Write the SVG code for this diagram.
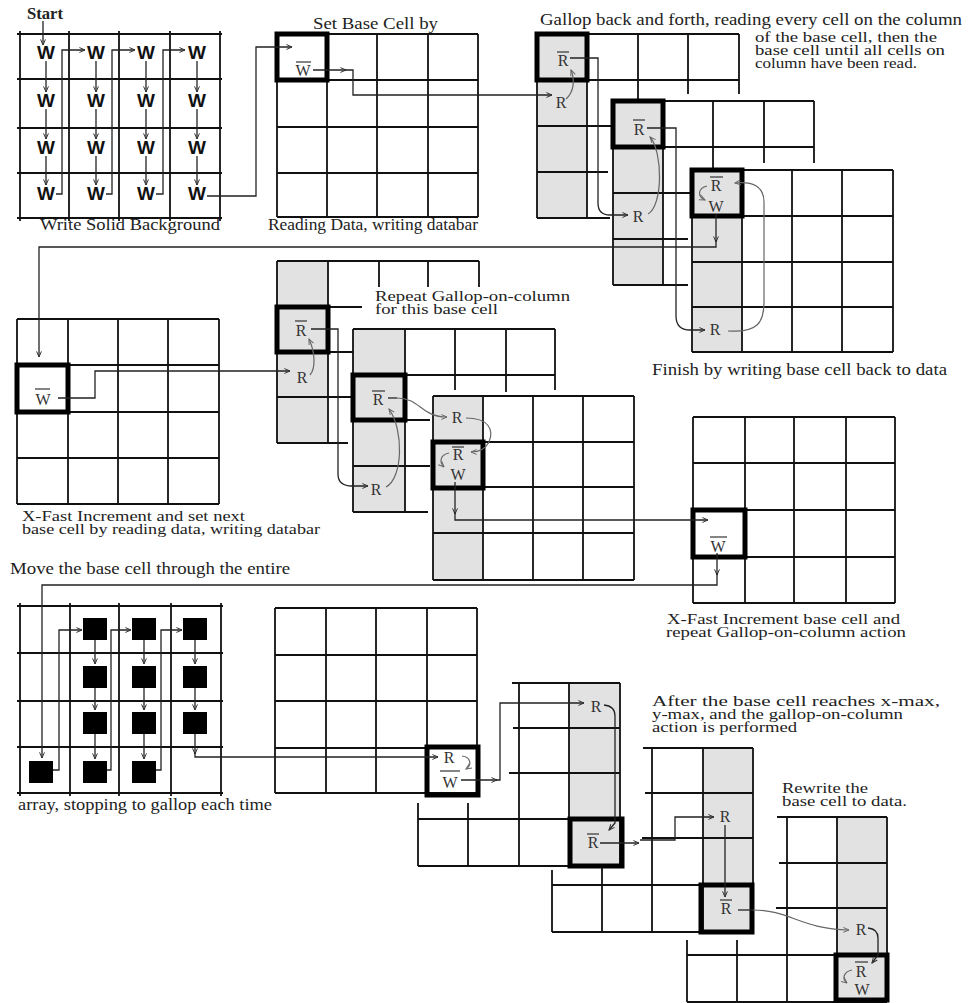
<svg xmlns="http://www.w3.org/2000/svg" width="968" height="1003" viewBox="0 0 968 1003">
<style>
.bg{fill:#fff}
.g{stroke:#111;stroke-width:1.8;fill:none}
.thick{stroke:#000;stroke-width:5;fill:none}
.gray{fill:#e2e2e2}
.c{stroke:#222;stroke-width:1.3;fill:none}
.cg{stroke:#666;stroke-width:1.2;fill:none}
.ol{stroke:#333;stroke-width:1.2}
.t{font-family:"Liberation Serif","Times New Roman",serif;font-size:16px;fill:#222}
.ts{font-family:"Liberation Serif","Times New Roman",serif;font-size:14px;fill:#222}
.l{font-family:"Liberation Serif","Times New Roman",serif;font-size:16px;fill:#333;text-anchor:middle}
.wb{font-family:"Liberation Sans",Arial,sans-serif;font-weight:bold;font-size:19px;fill:#111;text-anchor:middle}
.sq{fill:#000}
</style>
<defs>
<marker id="a" viewBox="0 0 10 10" refX="9" refY="5" markerWidth="7" markerHeight="7" orient="auto" markerUnits="userSpaceOnUse"><path d="M1,1.5 L9,5 L1,8.5" fill="none" stroke="#333" stroke-width="1.4"/></marker>
<marker id="ag" viewBox="0 0 10 10" refX="9" refY="5" markerWidth="7" markerHeight="7" orient="auto" markerUnits="userSpaceOnUse"><path d="M1,1.5 L9,5 L1,8.5" fill="none" stroke="#666" stroke-width="1.4"/></marker>
</defs>
<rect class="bg" x="0" y="0" width="968" height="1003"/>

<!-- Grid 1: write solid background -->
<g id="grid-write">
<path class="g" d="M17,34H222M17,79H222M17,128H222M17,173H222M17,218H222M20,31V221M69,31V221M119,31V221M170,31V221M220,31V221"/>
<text class="wb" x="46" y="59">W</text><text class="wb" x="96" y="59">W</text><text class="wb" x="146" y="59">W</text><text class="wb" x="197" y="59">W</text>
<text class="wb" x="46" y="107">W</text><text class="wb" x="96" y="107">W</text><text class="wb" x="146" y="107">W</text><text class="wb" x="197" y="107">W</text>
<text class="wb" x="46" y="154">W</text><text class="wb" x="96" y="154">W</text><text class="wb" x="146" y="154">W</text><text class="wb" x="197" y="154">W</text>
<text class="wb" x="46" y="200">W</text><text class="wb" x="96" y="200">W</text><text class="wb" x="146" y="200">W</text><text class="wb" x="197" y="200">W</text>
</g>

<!-- Grid 2: set base cell -->
<g id="grid-setbase">
<path class="g" d="M277,34H478M277,80H478M277,127H478M277,173H478M277,217H478M277,34V217M327,34V217M377,34V217M428,34V217M478,34V217"/>
<rect class="thick" x="277" y="34" width="50" height="46"/>
<text class="l" x="303" y="76">W</text><path class="ol" d="M296,62H311"/>
</g>

<!-- Gallop grids A, B, C -->
<g id="gallop-a">
<rect class="gray" x="537" y="34" width="50" height="184"/>
<path class="g" d="M537,34H739M537,80H739M537,126H612M537,172H608M537,218H610M537,34V218M587,34V218M638,34V101M688,34V94M739,34V94"/>
<rect class="thick" x="537" y="34" width="50" height="46"/>
<text class="l" x="563" y="66">R</text><path class="ol" d="M557,52H569"/>
<text class="l" x="561" y="108">R</text>
</g>
<g id="gallop-b">
<rect class="gray" x="613" y="101" width="50" height="184"/>
<path class="g" d="M613,101H814M613,147H814M613,193H690M613,239H688M613,285H688M613,101V285M663,101V285M713,101V170M764,101V163M814,101V163"/>
<rect class="thick" x="613" y="101" width="50" height="46"/>
<text class="l" x="639" y="135">R</text><path class="ol" d="M633,120H645"/>
<text class="l" x="638" y="222">R</text>
</g>
<g id="gallop-c">
<rect class="gray" x="692" y="170" width="50" height="182"/>
<path class="g" d="M692,170H893M692,216H893M692,262H893M692,307H893M692,352H893M692,170V352M742,170V352M792,170V352M842,170V352M893,170V352"/>
<rect class="thick" x="692" y="170" width="50" height="46"/>
<text class="l" x="716" y="191">R</text><path class="ol" d="M710,177H723"/>
<text class="l" x="716" y="212">W</text>
<text class="l" x="715" y="335">R</text>
</g>

<!-- X-fast increment and set next base cell -->
<g id="xfast-set">
<path class="g" d="M17,319H219M17,365H219M17,412H219M17,458H219M17,504H219M17,319V504M68,319V504M118,319V504M168,319V504M219,319V504"/>
<rect class="thick" x="17" y="365" width="51" height="47"/>
<text class="l" x="43" y="405">W</text><path class="ol" d="M35,389H50"/>
</g>

<!-- Gallop grids D, E, F -->
<g id="gallop-d">
<rect class="gray" x="277" y="261" width="51" height="182"/>
<path class="g" d="M277,261H479M328,307H362M277,352H353M277,397H353M277,443H348M277,261V443M328,261V443M379,261V287M428,261V287M479,261V287"/>
<rect class="thick" x="277" y="307" width="51" height="45"/>
<text class="l" x="301" y="336">R</text><path class="ol" d="M295,321H307"/>
<text class="l" x="302" y="383">R</text>
</g>
<g id="gallop-e">
<rect class="gray" x="353" y="329" width="52" height="183"/>
<path class="g" d="M353,329H555M353,375H555M405,420H430M353,466H430M353,512H428M353,329V512M405,329V512M455,329V390M506,329V392M555,329V390"/>
<rect class="thick" x="353" y="375" width="52" height="45"/>
<text class="l" x="378" y="405">R</text><path class="ol" d="M372,391H385"/>
<text class="l" x="376" y="495">R</text>
</g>
<g id="gallop-f">
<rect class="gray" x="433" y="396" width="50" height="184"/>
<path class="g" d="M433,396H634M433,442H634M433,487H634M433,533H634M433,580H634M433,396V580M483,396V580M533,396V580M583,396V580M634,396V580"/>
<rect class="thick" x="433" y="442" width="50" height="46"/>
<text class="l" x="457" y="423">R</text>
<text class="l" x="458" y="460">R</text><path class="ol" d="M452,447H464"/>
<text class="l" x="458" y="480">W</text>
</g>

<!-- X-fast increment base cell -->
<g id="xfast-inc">
<path class="g" d="M693,417H895M693,463H895M693,510H895M693,557H895M693,603H895M693,417V603M745,417V603M794,417V603M846,417V603M895,417V603"/>
<rect class="thick" x="693" y="510" width="52" height="47"/>
<text class="l" x="718" y="552">W</text><path class="ol" d="M710,537H727"/>
</g>

<!-- Move base cell through array -->
<g id="array-move">
<path class="g" d="M17,606H223M17,653H223M17,701H223M17,747H223M17,793H223M20,603V796M70,603V796M119,603V796M171,603V796M221,603V796"/>
<rect class="sq" x="29" y="761" width="24" height="22"/>
<rect class="sq" x="83" y="618" width="24" height="22"/><rect class="sq" x="83" y="666" width="24" height="22"/><rect class="sq" x="83" y="712" width="24" height="22"/><rect class="sq" x="83" y="761" width="24" height="22"/>
<rect class="sq" x="132" y="618" width="24" height="22"/><rect class="sq" x="132" y="666" width="24" height="22"/><rect class="sq" x="132" y="712" width="24" height="22"/><rect class="sq" x="132" y="761" width="24" height="22"/>
<rect class="sq" x="183" y="618" width="24" height="22"/><rect class="sq" x="183" y="666" width="24" height="22"/><rect class="sq" x="183" y="712" width="24" height="22"/>
</g>

<!-- Final sequence I, J, K, L -->
<g id="final-i">
<path class="g" d="M275,608H477M275,655H477M275,701H477M275,748H477M275,793H477M275,608V793M326,608V793M376,608V793M427,608V793M477,608V793"/>
<rect class="thick" x="427" y="747" width="51" height="48"/>
<text class="l" x="449" y="763">R</text><path class="ol" d="M440,771H460"/>
<text class="l" x="450" y="788">W</text>
</g>
<g id="final-j">
<rect class="gray" x="569" y="683" width="51" height="183"/>
<path class="g" d="M512,683H620M513,728H620M509,773H620M418,819H570M418,866H622M418,803V866M468,803V866M519,683V866M569,683V866M620,683V866"/>
<rect class="thick" x="570" y="819" width="52" height="47"/>
<text class="l" x="596" y="712">R</text>
<text class="l" x="593" y="848">R</text><path class="ol" d="M587,834H599"/>
</g>
<g id="final-k">
<rect class="gray" x="703" y="748" width="50" height="184"/>
<path class="g" d="M643,748H753M645,793H753M642,838H753M552,885H753M552,932H753M552,870V932M602,867V932M652,748V932M703,748V932M753,748V932"/>
<rect class="thick" x="701" y="885" width="51" height="47"/>
<text class="l" x="725" y="822">R</text>
<text class="l" x="726" y="914">R</text><path class="ol" d="M720,900H732"/>
</g>
<g id="final-l">
<rect class="gray" x="837" y="817" width="50" height="186"/>
<path class="g" d="M777,817H887M779,863H887M776,908H887M687,955H887M687,1002H887M687,940V1002M737,940V1002M787,817V1002M837,817V1002M887,817V1002"/>
<rect class="thick" x="836" y="955" width="51" height="45"/>
<text class="l" x="861" y="935">R</text>
<text class="l" x="861" y="977">R</text><path class="ol" d="M855,962H868"/>
<text class="l" x="862" y="995">W</text>
</g>

<!-- Connectors -->
<g id="connectors">
<path class="c" marker-end="url(#a)" d="M43,21V45"/>
<path class="c" marker-end="url(#a)" d="M46,61V92"/><path class="c" marker-end="url(#a)" d="M46,109V139"/><path class="c" marker-end="url(#a)" d="M46,156V185"/>
<path class="c" marker-end="url(#a)" d="M96,61V92"/><path class="c" marker-end="url(#a)" d="M96,109V139"/><path class="c" marker-end="url(#a)" d="M96,156V185"/>
<path class="c" marker-end="url(#a)" d="M146,61V92"/><path class="c" marker-end="url(#a)" d="M146,109V139"/><path class="c" marker-end="url(#a)" d="M146,156V185"/>
<path class="c" marker-end="url(#a)" d="M197,61V92"/><path class="c" marker-end="url(#a)" d="M197,109V139"/><path class="c" marker-end="url(#a)" d="M197,156V185"/>
<path class="c" marker-end="url(#a)" d="M56,194H62V50H85"/>
<path class="c" marker-end="url(#a)" d="M106,194H112V50H135"/>
<path class="c" marker-end="url(#a)" d="M156,194H163V50H185"/>
<path class="c" marker-end="url(#a)" d="M207,196H256V47H292"/>
<path class="c" marker-end="url(#a)" d="M313,70H346"/>
<path class="c" marker-end="url(#a)" d="M345,70H353V95H552"/>
<path class="cg" marker-end="url(#ag)" d="M566,99C574,92 575,80 571,70"/>
<path class="c" marker-end="url(#a)" d="M570,58H598V203Q598,215 610,215H628"/>
<path class="cg" marker-end="url(#ag)" d="M648,214C663,206 663,152 650,137"/>
<path class="c" marker-end="url(#a)" d="M647,128H676V316Q676,330 690,330H705"/>
<path class="cg" marker-end="url(#ag)" d="M728,331C758,333 764,322 764,302V202C764,186 752,181 735,183"/>
<path class="cg" marker-end="url(#ag)" d="M707,186C698,188 697,196 705,200"/>
<path class="c" marker-end="url(#a)" d="M716,214V242"/>
<path class="c" marker-end="url(#a)" d="M716,240V247H39V357"/>
<path class="c" marker-end="url(#a)" d="M58,398H95V371H290"/>
<path class="cg" marker-end="url(#ag)" d="M310,375C316,368 315,352 309,339"/>
<path class="c" marker-end="url(#a)" d="M311,329H338V474Q338,486 352,486H368"/>
<path class="cg" marker-end="url(#ag)" d="M386,487C403,478 404,430 389,409"/>
<path class="c" d="M388,398H397"/>
<path class="cg" marker-end="url(#ag)" d="M397,398C420,398 421,417 447,417"/>
<path class="cg" marker-end="url(#ag)" d="M466,418C489,418 494,430 489,442C485,450 479,452 471,452"/>
<path class="cg" marker-end="url(#ag)" d="M449,453C440,455 439,462 444,467"/>
<path class="c" marker-end="url(#a)" d="M455,482V514"/>
<path class="c" marker-end="url(#a)" d="M455,512V520H708"/>
<path class="c" marker-end="url(#a)" d="M717,553V575"/>
<path class="c" marker-end="url(#a)" d="M717,573V585H42V758"/>
<path class="c" marker-end="url(#a)" d="M53,770H59V630H82"/>
<path class="c" marker-end="url(#a)" d="M95,640V664"/><path class="c" marker-end="url(#a)" d="M95,688V710"/><path class="c" marker-end="url(#a)" d="M95,734V759"/>
<path class="c" marker-end="url(#a)" d="M107,770H111V630H131"/>
<path class="c" marker-end="url(#a)" d="M144,640V664"/><path class="c" marker-end="url(#a)" d="M144,688V710"/><path class="c" marker-end="url(#a)" d="M144,734V759"/>
<path class="c" marker-end="url(#a)" d="M156,770H161V630H182"/>
<path class="c" marker-end="url(#a)" d="M195,640V664"/><path class="c" marker-end="url(#a)" d="M195,688V710"/>
<path class="c" marker-end="url(#a)" d="M195,734V754"/>
<path class="c" marker-end="url(#a)" d="M195,752V757H438"/>
<path class="cg" marker-end="url(#ag)" d="M462,756C471,757 472,765 466,769"/>
<path class="c" marker-end="url(#a)" d="M461,780H497"/>
<path class="c" marker-end="url(#a)" d="M496,780H500V703H584"/>
<path class="c" marker-end="url(#a)" d="M604,705Q615,706 615,716V823L609,830"/>
<path class="c" marker-end="url(#a)" d="M600,843H639"/>
<path class="c" marker-end="url(#a)" d="M640,840H675V817H714"/>
<path class="c" marker-end="url(#a)" d="M725,825V897"/>
<path class="c" d="M738,910H753"/>
<path class="cg" marker-end="url(#ag)" d="M753,910C790,910 800,929 849,930"/>
<path class="c" marker-end="url(#a)" d="M868,928Q878,929 878,938V955L872,963"/>
<path class="cg" marker-end="url(#ag)" d="M852,970C843,972 842,979 847,983"/>
</g>

<!-- Labels -->
<g id="labels">
<text class="t" x="27" y="19" font-weight="bold" font-size="15" textLength="36" lengthAdjust="spacingAndGlyphs">Start</text>
<text class="t" x="40" y="230" textLength="180" lengthAdjust="spacingAndGlyphs">Write Solid Background</text>
<text class="t" x="313" y="29" textLength="125" lengthAdjust="spacingAndGlyphs">Set Base Cell by</text>
<text class="t" x="268" y="230" textLength="210" lengthAdjust="spacingAndGlyphs">Reading Data, writing databar</text>
<text class="t" x="540" y="25" textLength="422" lengthAdjust="spacingAndGlyphs">Gallop back and forth, reading every cell on the column</text>
<text class="ts"><tspan x="755" y="42" textLength="182" lengthAdjust="spacingAndGlyphs">of the base cell, then the</tspan><tspan x="755" y="55" textLength="190" lengthAdjust="spacingAndGlyphs">base cell until all cells on</tspan><tspan x="755" y="68" textLength="162" lengthAdjust="spacingAndGlyphs">column have been read.</tspan></text>
<text class="t" x="652" y="375" textLength="295" lengthAdjust="spacingAndGlyphs">Finish by writing base cell back to data</text>
<text class="ts"><tspan x="375" y="301" textLength="195" lengthAdjust="spacingAndGlyphs">Repeat Gallop-on-column</tspan><tspan x="375" y="314" textLength="123" lengthAdjust="spacingAndGlyphs">for this base cell</tspan></text>
<text class="ts"><tspan x="22" y="521" textLength="223" lengthAdjust="spacingAndGlyphs">X-Fast Increment and set next</tspan><tspan x="22" y="534" textLength="298" lengthAdjust="spacingAndGlyphs">base cell by reading data, writing databar</tspan></text>
<text class="t" x="10" y="574" textLength="280" lengthAdjust="spacingAndGlyphs">Move the base cell through the entire</text>
<text class="ts"><tspan x="667" y="624" textLength="233" lengthAdjust="spacingAndGlyphs">X-Fast Increment base cell and</tspan><tspan x="666" y="637" textLength="240" lengthAdjust="spacingAndGlyphs">repeat Gallop-on-column action</tspan></text>
<text class="t" x="18" y="810" textLength="254" lengthAdjust="spacingAndGlyphs">array, stopping to gallop each time</text>
<text class="ts"><tspan x="652" y="706" textLength="288" lengthAdjust="spacingAndGlyphs">After the base cell reaches x-max,</tspan><tspan x="652" y="719" textLength="251" lengthAdjust="spacingAndGlyphs">y-max, and the gallop-on-column</tspan><tspan x="652" y="732" textLength="145" lengthAdjust="spacingAndGlyphs">action is performed</tspan></text>
<text class="ts"><tspan x="782" y="793" textLength="86" lengthAdjust="spacingAndGlyphs">Rewrite the</tspan><tspan x="782" y="806" textLength="125" lengthAdjust="spacingAndGlyphs">base cell to data.</tspan></text>
</g>
</svg>
